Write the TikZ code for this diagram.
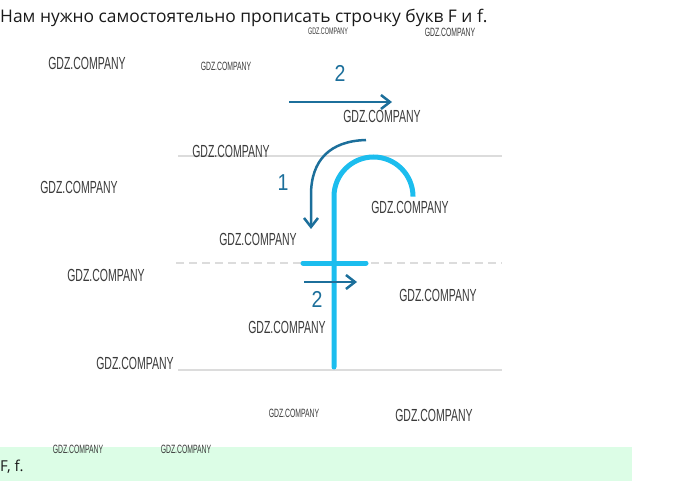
\documentclass[tikz,border=0pt]{standalone}
\usepackage{fontspec}
\setmainfont{Open Sans}
\newfontfamily\wmfont{Liberation Sans}
\newfontfamily\numfont{Liberation Sans}
\usetikzlibrary{arrows.meta}
\definecolor{guide}{HTML}{DCDCDC}
\definecolor{letter}{HTML}{1CBDEE}
\definecolor{arrowc}{HTML}{1C6F9B}
\definecolor{band}{HTML}{DCFDE6}
\definecolor{wmc}{HTML}{3A3A3A}
\tikzset{
  guideline/.style={draw=guide, line width=2pt},
  letterstroke/.style={draw=letter, line width=5pt, line cap=round},
  dirarrow/.style={draw=arrowc, line width=2.5pt, -{Straight Barb[length=9pt,width=14pt,line width=2.5pt]}},
  numlabel/.style={text=arrowc, font=\numfont\fontsize{23}{23}\selectfont, xscale=0.85, inner sep=0pt},
  wm/.style={text=wmc, font=\wmfont\fontsize{17.5}{17.5}\selectfont, xscale=0.6, inner sep=0pt},
  wmsmall/.style={text=wmc, font=\wmfont\fontsize{12}{12}\selectfont, xscale=0.57, inner sep=0pt},
  wmtiny/.style={text=wmc, font=\wmfont\fontsize{9.5}{9.5}\selectfont, xscale=0.57, inner sep=0pt},
}
\begin{document}
\begin{tikzpicture}[x=1pt,y=-1pt]
\useasboundingbox (0,0) rectangle (680,481);
% bottom band
\fill[band] (0,447) rectangle (632,481);
% title
\node[anchor=base west, inner sep=0pt, text=black!90, font=\fontsize{17.4}{17.4}\selectfont] (title) at (0,23) {Нам нужно самостоятельно прописать строчку букв F и f.};
\node[anchor=base west, inner sep=0pt, text=black!90, font=\fontsize{15}{15}\selectfont] (answer) at (0,471) {F, f.};
% guide lines
\coordinate (t1) at (178,156); \coordinate (t2) at (502,156);
\coordinate (m1) at (176,263); \coordinate (m2) at (502,263);
\coordinate (b1) at (178,370); \coordinate (b2) at (502,370);
\draw[guideline] (t1) -- (t2);
\draw[guideline, dash pattern=on 8pt off 5pt] (m1) -- (m2);
\draw[guideline] (b1) -- (b2);
% letter f
\coordinate (fbot) at (334,367);
\coordinate (fbend) at (334,196.5);
\coordinate (fend) at (413,196);
\coordinate (cb1) at (303,263); \coordinate (cb2) at (366,263);
\draw[letterstroke] (fbot) -- (fbend) arc[start angle=180, end angle=360, radius=39.5] -- (fend);
\draw[letterstroke] (cb1) -- (cb2);
% arrow 1
\coordinate (a1s) at (366,140);
\coordinate (a1e) at (311,229);
\draw[dirarrow] (a1s) .. controls (330,141) and (311,160) .. (311,195) -- (a1e);
\node[numlabel] (n1) at (283,183) {1};
% arrow 2 top
\coordinate (a2s) at (289,102); \coordinate (a2e) at (392,102);
\draw[dirarrow] (a2s) -- (a2e);
\node[numlabel] (n2) at (340,73) {2};
% arrow 2 lower
\coordinate (a3s) at (304,282); \coordinate (a3e) at (357,282);
\draw[dirarrow] (a3s) -- (a3e);
\node[numlabel] (n3) at (317,299) {2};
% watermarks
\node[wmtiny] (w1) at (328,31) {GDZ.COMPANY};
\node[wmsmall] (w2) at (450,32) {GDZ.COMPANY};
\node[wm] (w3) at (87,63) {GDZ.COMPANY};
\node[wmsmall] (w4) at (226,66) {GDZ.COMPANY};
\node[wm] (w5) at (382,116) {GDZ.COMPANY};
\node[wm] (w6) at (231,151) {GDZ.COMPANY};
\node[wm] (w7) at (79,187) {GDZ.COMPANY};
\node[wm] (w8) at (410,207) {GDZ.COMPANY};
\node[wm] (w9) at (258,239) {GDZ.COMPANY};
\node[wm] (w10) at (106,275) {GDZ.COMPANY};
\node[wm] (w11) at (438,295) {GDZ.COMPANY};
\node[wm] (w12) at (287,327) {GDZ.COMPANY};
\node[wm] (w13) at (135,363) {GDZ.COMPANY};
\node[wmsmall] (w14) at (294,413) {GDZ.COMPANY};
\node[wm] (w15) at (434,415) {GDZ.COMPANY};
\node[wmsmall] (w16) at (78,449) {GDZ.COMPANY};
\node[wmsmall] (w17) at (186,449) {GDZ.COMPANY};
\end{tikzpicture}
\end{document}
